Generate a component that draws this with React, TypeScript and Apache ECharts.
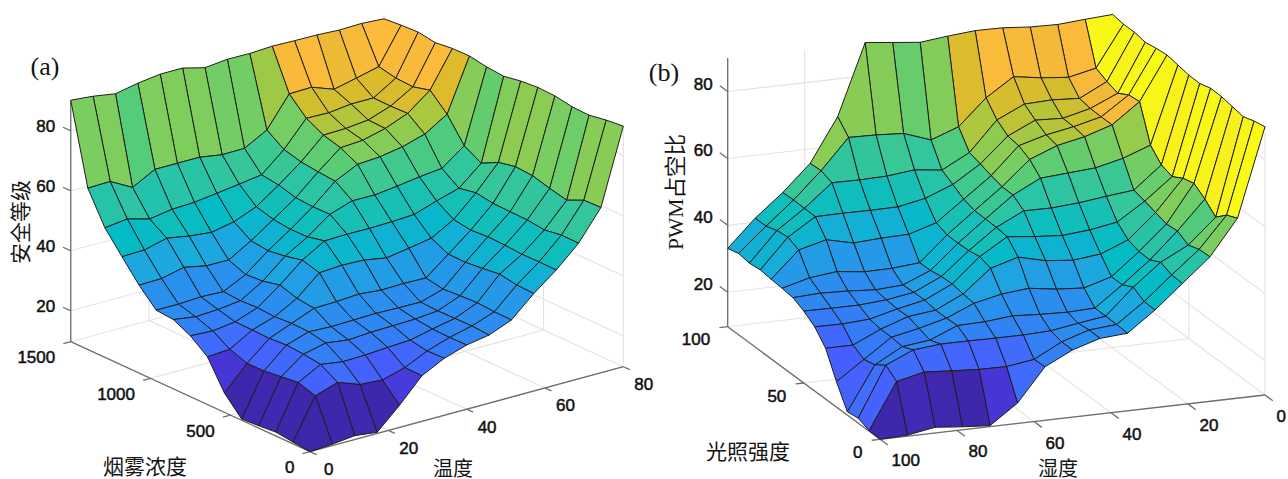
import React, { useEffect, useRef } from "react";
import * as echarts from "echarts";

// Panel (a): safety level. One row per smoke step (0..1500), one column per temperature step (0..80).
const safetyLevel: number[][] = [
  [9.7, 10.2, 11, 10.1, 17.1, 24.9, 28.7, 31.1, 32.4, 35.4, 42.2, 48, 54.9, 64.8, 89.9],
  [10.3, 23.7, 26.1, 23.4, 22.9, 25, 28.5, 31, 32.8, 35.5, 42.4, 48.1, 55, 64.6, 89.3],
  [11, 25.5, 29.5, 28.4, 28.6, 29.1, 29.5, 31.2, 32.7, 35.9, 43.4, 48, 54.1, 62, 88.3],
  [10.5, 24.8, 30.3, 32, 31, 31.5, 31.7, 31.9, 32.6, 35.6, 42.7, 48.4, 54.8, 63.3, 88.5],
  [10.1, 24.1, 30.7, 33.1, 32.8, 33, 33.2, 33, 32.9, 35.2, 42.1, 48.6, 54.9, 64.9, 89.5],
  [16.1, 24, 30.3, 33.3, 36.3, 36.5, 37, 36.3, 36.5, 36.3, 42.2, 48.2, 55.1, 65.3, 89.7],
  [25.6, 26.1, 30.5, 32.9, 37, 43.5, 44, 43.7, 42.4, 43.6, 44.9, 49.1, 56, 64.1, 89.2],
  [30, 29.6, 30.6, 33.3, 38.8, 45.1, 49.5, 49.7, 49.6, 49.8, 50.2, 52.7, 54.9, 61.2, 88.2],
  [32.8, 31.7, 32.1, 33, 37.5, 43.8, 48.2, 53.7, 56.2, 56.1, 57, 58.1, 58.9, 64.4, 88.7],
  [33.3, 33.3, 33.7, 33.4, 37.1, 43, 48.1, 53.6, 60.1, 63.7, 64.2, 65.5, 67.7, 72.3, 89.7],
  [39, 39.2, 40.9, 39.4, 39.3, 43.7, 48.8, 54, 60.6, 66.6, 67.1, 69, 72, 77.7, 89.6],
  [45.9, 46.1, 48, 46.7, 45.9, 47.4, 50.4, 55.6, 61.3, 68.2, 68.4, 69.2, 71.8, 76.2, 88.9],
  [52.9, 53.8, 51.8, 53, 53.3, 54.3, 55.3, 56.4, 62.8, 71.2, 71, 71.9, 71.9, 76.5, 89.8],
  [63.5, 63.7, 59.7, 63.7, 63.7, 63.7, 62.5, 62.6, 66.7, 76.7, 76.9, 74.2, 75.9, 77.7, 89.5],
  [90.2, 89.5, 88.3, 89.8, 90.8, 90.8, 88.9, 89.7, 89.6, 90, 89.8, 89.7, 89.3, 89.5, 89],
];

// Panel (b): PWM duty. One row per humidity step (100..0), one column per light step (0..100).
const pwmDuty: number[][] = [
  [9.7, 9.9, 11.2, 10.7, 17.3, 24.9, 28.9, 31.2, 32.8, 33.2, 33.5, 33.9, 33.5, 34, 33.1],
  [10, 23.6, 26.1, 23.8, 23, 24.9, 28.8, 31.1, 33.2, 35.4, 41.3, 42.7, 42.3, 41.2, 41.2],
  [11.4, 25.5, 29.7, 28.3, 28.7, 28.7, 29.3, 31.1, 32.9, 36.3, 43.4, 47.9, 48, 48.1, 47.9],
  [10.6, 24.9, 30.5, 29.3, 30.4, 31.5, 31.4, 31.7, 32.3, 35.3, 41.5, 48, 54.7, 55.9, 55.7],
  [10, 24.4, 30.5, 32.7, 32.5, 32.5, 33.1, 33, 32.8, 35.4, 42, 47.9, 54.6, 64.9, 68.7],
  [15.8, 24.3, 30.4, 32.9, 36, 36.4, 37, 36.8, 36.2, 36.1, 42.2, 48, 54.8, 64.7, 89.9],
  [25.7, 25.5, 30.4, 33.7, 37.8, 43.1, 44.2, 43.6, 43.4, 43.5, 44.7, 49.6, 55.7, 64.2, 89],
  [29.8, 29.8, 30.7, 33.2, 38.6, 45.5, 49.2, 49.6, 49.7, 49.8, 50.8, 52.8, 54.7, 61.3, 88.1],
  [32.3, 32.4, 32, 32.9, 37.4, 43.5, 48.3, 53.6, 55.9, 56, 56.9, 58, 59, 64.3, 89],
  [32.9, 33.1, 33.2, 33.2, 36.8, 42.7, 47.7, 53.5, 60, 63.2, 64.9, 65.4, 67.8, 72, 89.7],
  [38.9, 39, 40.9, 39.2, 39.2, 43.6, 48.4, 54.1, 60.6, 66.4, 67.2, 69.2, 71.6, 77.4, 89.6],
  [45.9, 46, 47.4, 45.7, 45.8, 46.9, 49.8, 55.1, 61.2, 68.1, 68.7, 68.8, 71.9, 76.1, 88.9],
  [52.9, 52.7, 51.6, 53.4, 53.1, 54.1, 55.1, 56, 63.1, 70.7, 70.7, 70.8, 71.4, 75.3, 88.7],
  [63.5, 62, 59, 62, 64.3, 63.4, 61.5, 62.6, 66.1, 76.7, 76.3, 74.4, 75.5, 77.1, 89.3],
  [89.9, 89.2, 88.1, 88.7, 89.3, 89.4, 88.4, 88.5, 89.1, 89.7, 89.3, 88.7, 89.3, 89.3, 89.8],
];

const temperatureTicks = [0, 20, 40, 60, 80];
const smokeTicks = [0, 500, 1000, 1500];
const humidityTicks = [100, 80, 60, 40, 20, 0];
const lightTicks = [0, 50, 100];
const zTicks = [20, 40, 60, 80];

const STEPS = 14;
const Z_MIN = 9.7;
const Z_MAX = 90;

type Panel = {
  key: string;
  front: [number, number];
  di: [number, number];
  dj: [number, number];
  zScale: number;
  grid: (i: number, j: number) => number;
  colorOffset: number; // which corner colours the facet (MATLAB's first vertex)
  iOf: (t: number) => number;
  jOf: (t: number) => number;
  iTicks: number[];
  jTicks: number[];
  tickDi: number;
  tickDjFloor: number;
  tickDjZ: number;
};

const panelA: Panel = {
  key: "a",
  front: [310, 451.7],
  di: [22.38, -6.07],
  dj: [-17.09, -7.857],
  zScale: 3,
  grid: (i, j) => safetyLevel[j][i],
  colorOffset: 0,
  iOf: (t) => (t / 80) * STEPS,
  jOf: (t) => (t / 1500) * STEPS,
  iTicks: temperatureTicks,
  jTicks: smokeTicks,
  tickDi: 0.33,
  tickDjFloor: 0.38,
  tickDjZ: 0.45,
};

const panelB: Panel = {
  key: "b",
  front: [880, 439.3],
  di: [27.5, -3.164],
  dj: [-10.88, -8.043],
  zScale: 3.345,
  grid: (i, j) => pwmDuty[i][j],
  colorOffset: 1,
  iOf: (t) => ((100 - t) / 100) * STEPS,
  jOf: (t) => (t / 100) * STEPS,
  iTicks: humidityTicks,
  jTicks: lightTicks,
  tickDi: 0.3,
  tickDjFloor: 0.72,
  tickDjZ: 0.72,
};

const project = (p: Panel, i: number, j: number, z: number): [number, number] => [
  p.front[0] + p.di[0] * i + p.dj[0] * j,
  p.front[1] + p.di[1] * i + p.dj[1] * j - (z - Z_MIN) * p.zScale,
];

const paruStops: [number, string][] = [
  [0.0, "#3E26A8"],
  [0.08, "#4736D6"],
  [0.17, "#4660FE"],
  [0.27, "#2E88F2"],
  [0.37, "#1CA8DF"],
  [0.45, "#05BBC6"],
  [0.55, "#2CC4A4"],
  [0.62, "#53CC7A"],
  [0.67, "#7CCD5F"],
  [0.7, "#94CB4C"],
  [0.74, "#BCC335"],
  [0.78, "#DDBB2B"],
  [0.815, "#F5B93A"],
  [0.85, "#FDBB3A"],
  [0.93, "#F5D92A"],
  [1.0, "#F9FB15"],
];

const parula = (z: number): string => {
  const t = Math.max(0, Math.min(1, (z - Z_MIN) / (Z_MAX - Z_MIN)));
  for (let k = 1; k < paruStops.length; k++) {
    if (t <= paruStops[k][0]) {
      const [a, ca] = paruStops[k - 1];
      const [b, cb] = paruStops[k];
      return echarts.color.lerp((t - a) / (b - a), [ca, cb]) as string;
    }
  }
  return paruStops[paruStops.length - 1][1];
};

const cellData = (p: Panel) => {
  const out: number[][] = [];
  for (let i = STEPS - 1; i >= 0; i--) {
    for (let j = STEPS - 1; j >= 0; j--) {
      out.push([
        i,
        j,
        p.grid(i, j),
        p.grid(i + 1, j),
        p.grid(i + 1, j + 1),
        p.grid(i, j + 1),
        p.grid(i + p.colorOffset, j),
      ]);
    }
  }
  return out;
};

const surfaceSeries = (p: Panel) => ({
  type: "custom",
  coordinateSystem: "cartesian2d",
  clip: false,
  silent: true,
  z: 5,
  data: cellData(p),
  renderItem: (_: any, api: any) => {
    const i = api.value(0);
    const j = api.value(1);
    const corners: [number, number, number][] = [
      [i, j, api.value(2)],
      [i + 1, j, api.value(3)],
      [i + 1, j + 1, api.value(4)],
      [i, j + 1, api.value(5)],
    ];
    return {
      type: "polygon",
      shape: { points: corners.map(([a, b, z]) => api.coord(project(p, a, b, z))) },
      style: {
        fill: parula(api.value(6)),
        stroke: "#1e1e1e",
        lineWidth: 1,
        lineJoin: "round",
      },
    };
  },
});

// Each frame segment: [i0, j0, z0, i1, j1, z1, kind]; kind 0 = wall/floor grid, 1 = axis
const frameData = (p: Panel) => {
  const out: number[][] = [];
  const it = p.iTicks.map(p.iOf);
  const jt = p.jTicks.map(p.jOf);
  for (const i of it) {
    out.push([i, 0, Z_MIN, i, STEPS, Z_MIN, 0]);
    out.push([i, STEPS, Z_MIN, i, STEPS, Z_MAX, 0]);
  }
  for (const j of jt) {
    out.push([0, j, Z_MIN, STEPS, j, Z_MIN, 0]);
    out.push([STEPS, j, Z_MIN, STEPS, j, Z_MAX, 0]);
  }
  for (const z of zTicks) {
    out.push([0, STEPS, z, STEPS, STEPS, z, 0]);
    out.push([STEPS, 0, z, STEPS, STEPS, z, 0]);
  }
  out.push([0, 0, Z_MIN, STEPS, 0, Z_MIN, 1]);
  out.push([0, 0, Z_MIN, 0, STEPS, Z_MIN, 1]);
  out.push([0, STEPS, Z_MIN, 0, STEPS, Z_MAX, 1]);
  for (const i of it) out.push([i, 0, Z_MIN, i, -p.tickDjFloor, Z_MIN, 1]);
  for (const j of jt) out.push([0, j, Z_MIN, -p.tickDi, j, Z_MIN, 1]);
  for (const z of zTicks) out.push([0, STEPS, z, 0, STEPS + p.tickDjZ, z, 1]);
  return out;
};

const frameSeries = (p: Panel) => ({
  type: "custom",
  coordinateSystem: "cartesian2d",
  clip: false,
  silent: true,
  z: 2,
  data: frameData(p),
  renderItem: (_: any, api: any) => {
    const a = api.coord(project(p, api.value(0), api.value(1), api.value(2)));
    const b = api.coord(project(p, api.value(3), api.value(4), api.value(5)));
    const axis = api.value(6) === 1;
    return {
      type: "line",
      shape: { x1: a[0], y1: a[1], x2: b[0], y2: b[1] },
      style: { stroke: axis ? "#6e6e6e" : "#e3e3e3", lineWidth: axis ? 1.3 : 1.1 },
    };
  },
});

const SANS = '"Liberation Sans", Arial, sans-serif';
const SERIF_CJK = '"Liberation Serif", "Noto Sans CJK SC", serif';

const tickText = (text: string, x: number, y: number, align: string) => ({
  type: "text",
  x,
  y,
  z: 20,
  style: {
    text,
    fill: "#111",
    stroke: "#111",
    lineWidth: 0.5,
    font: `17px ${SANS}`,
    align,
    verticalAlign: "middle",
  },
});

const titleText = (text: string, x: number, y: number, rotation = 0, size = 21) => ({
  type: "text",
  x,
  y,
  z: 20,
  rotation,
  style: {
    text,
    fill: "#151515",
    font: `${size}px ${SERIF_CJK}`,
    align: "center",
    verticalAlign: "middle",
  },
});

const panelTexts = () => {
  const out: any[] = [];
  for (const t of temperatureTicks) {
    const [x, y] = project(panelA, panelA.iOf(t), 0, Z_MIN);
    out.push(tickText(String(t), x + (t === 0 ? 14 : 11), y + 18, "left"));
  }
  for (const t of smokeTicks) {
    const [x, y] = project(panelA, 0, panelA.jOf(t), Z_MIN);
    out.push(tickText(String(t), x - 15.5, y + 16, "right"));
  }
  for (const t of zTicks) {
    const [x, y] = project(panelA, 0, STEPS, t);
    out.push(tickText(String(t), x - 15.5, y - 4, "right"));
  }
  for (const t of humidityTicks) {
    const [x, y] = project(panelB, panelB.iOf(t), 0, Z_MIN);
    out.push(tickText(String(t), x + 11.5, y + 21.5, "left"));
  }
  for (const t of lightTicks) {
    const [x, y] = project(panelB, 0, panelB.jOf(t), Z_MIN);
    out.push(tickText(String(t), x - 17.5, y + 13.3, "right"));
  }
  for (const t of zTicks) {
    const [x, y] = project(panelB, 0, STEPS, t);
    out.push(tickText(String(t), x - 15, y - 7.5, "right"));
  }
  out.push(titleText("(a)", 45, 66, 0, 26));
  out.push(titleText("(b)", 664, 72, 0, 26));
  out.push(titleText("烟雾浓度", 145, 467));
  out.push(titleText("温度", 453, 468.5, 0, 20));
  out.push(titleText("安全等级", 21, 222, Math.PI / 2));
  out.push(titleText("光照强度", 748, 452));
  out.push(titleText("湿度", 1058, 468.5, 0, 20));
  out.push(titleText("PWM占空比", 676, 192, Math.PI / 2, 21.5));
  return out;
};

export default function App() {
  const ref = useRef<HTMLDivElement>(null);
  useEffect(() => {
    document.body.style.margin = "0";
    const chart = echarts.init(ref.current!, undefined, { renderer: "svg" });
    chart.setOption({
      animation: false,
      backgroundColor: "#ffffff",
      grid: { left: 0, right: 0, top: 0, bottom: 0 },
      xAxis: { type: "value", min: 0, max: 1288, show: false },
      yAxis: { type: "value", min: 0, max: 479, inverse: true, show: false },
      series: [frameSeries(panelA), frameSeries(panelB), surfaceSeries(panelA), surfaceSeries(panelB)],
      graphic: panelTexts(),
    });
    return () => chart.dispose();
  }, []);
  return <div ref={ref} style={{ width: 1288, height: 479, position: "absolute", left: 0, top: 0 }} />;
}
